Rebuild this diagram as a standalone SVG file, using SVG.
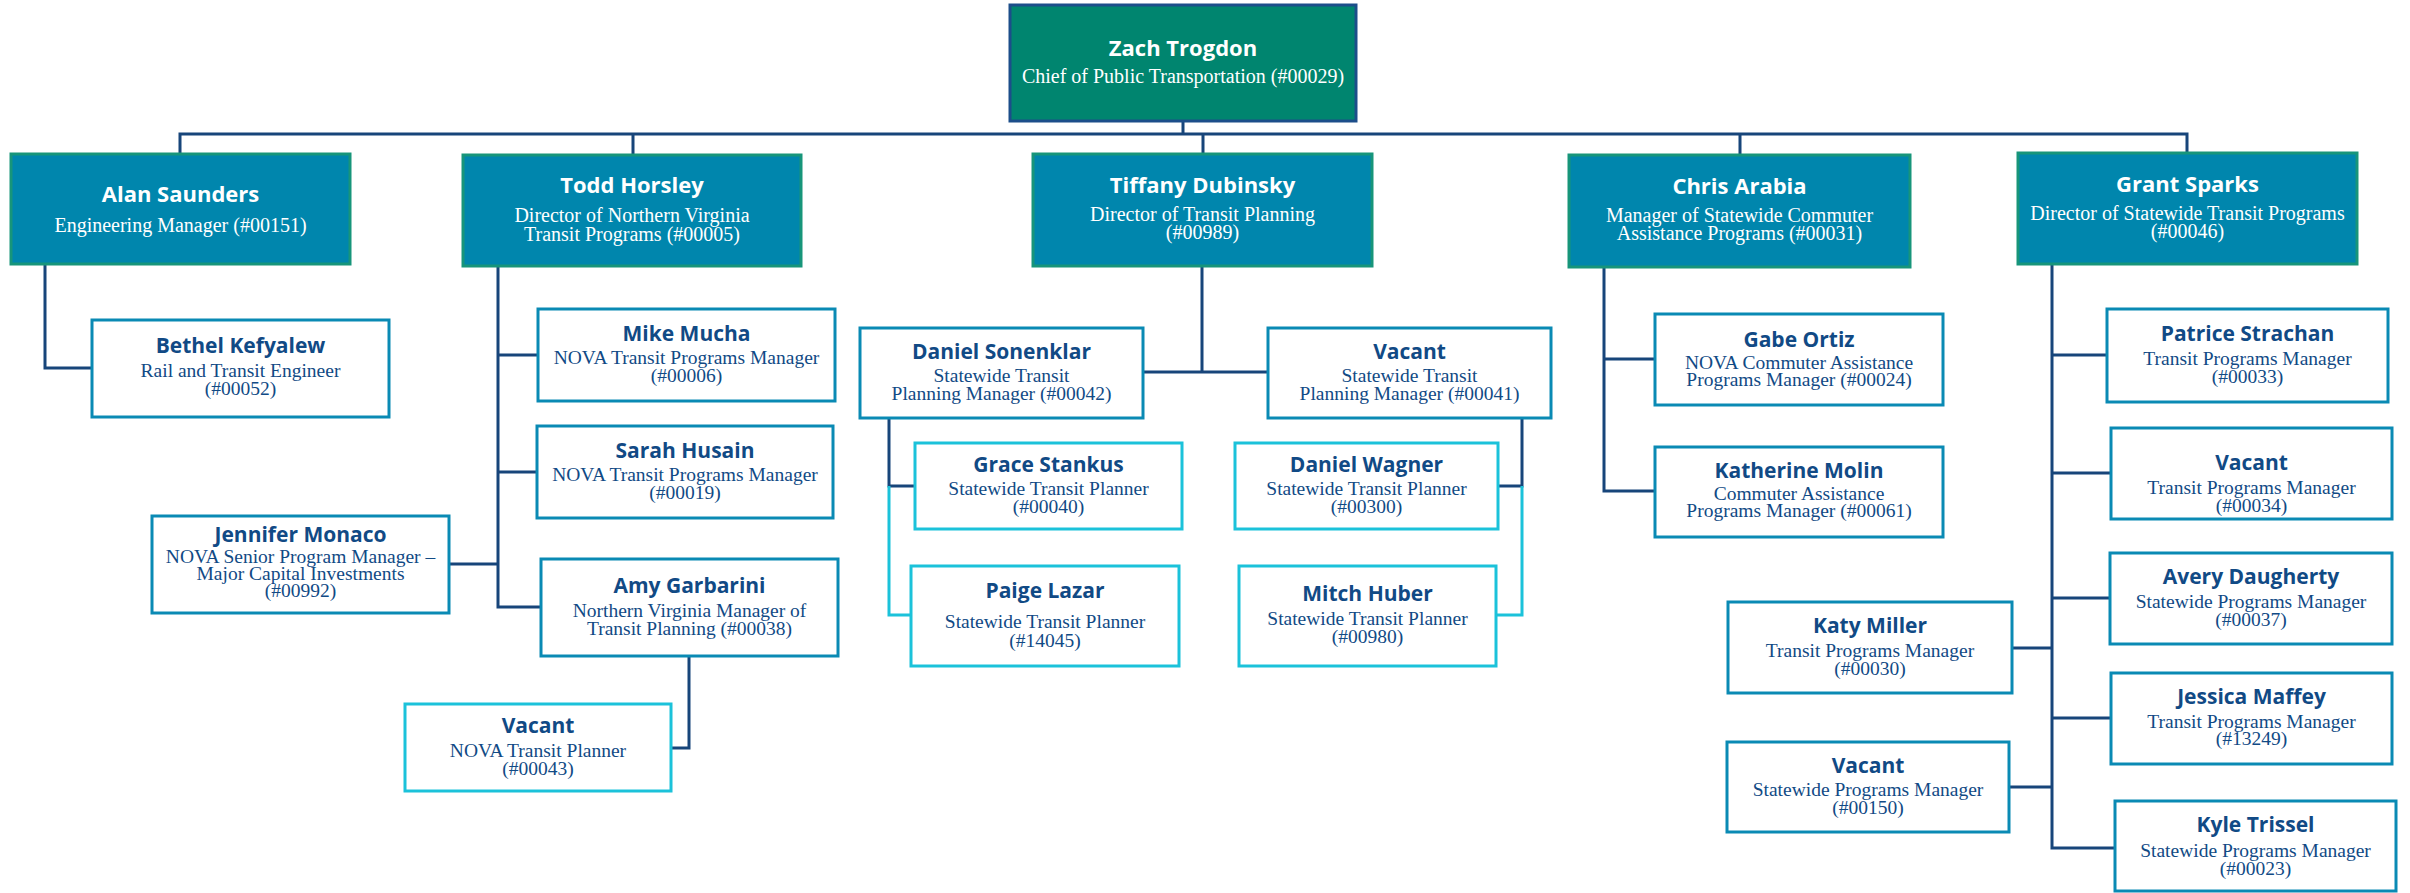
<svg xmlns="http://www.w3.org/2000/svg" width="2410" height="893" viewBox="0 0 2410 893">
<style>
.bg{fill:#ffffff}
.top{fill:#00856f;stroke:#1c4e8a;stroke-width:3}
.l1{fill:#0086ad;stroke:#17957a;stroke-width:3}
.l2{fill:#ffffff;stroke:#0a8ab4;stroke-width:3}
.l3{fill:#ffffff;stroke:#1bc2da;stroke-width:3}
.c{fill:none;stroke:#17457a;stroke-width:3}
.cc{fill:none;stroke:#1bc2da;stroke-width:3}
.n1{font-family:"Open Sans","Noto Sans",sans-serif;font-weight:700;font-size:22px;fill:#ffffff;text-anchor:middle}
.t1{font-family:"Liberation Serif","Times New Roman",serif;font-size:20px;fill:#ffffff;text-anchor:middle}
.n2{font-family:"Open Sans","Noto Sans",sans-serif;font-weight:700;font-size:21px;fill:#114a85;text-anchor:middle}
.t2{font-family:"Liberation Serif","Times New Roman",serif;font-size:19.5px;fill:#114a85;text-anchor:middle}
</style>
<rect class="bg" x="0" y="0" width="2410" height="893"/>
<g id="connectors">
<path class="c" d="M1183 121V134M180 154V134H2187V153M633 134V155M1203 134V154M1740 134V155"/>
<path class="c" d="M45 264V368H92"/>
<path class="c" d="M498 266V607H541M498 355H538M498 472H537M449 564H498"/>
<path class="c" d="M689 656V748H671"/>
<path class="c" d="M1202 266V372M1143 372H1268"/>
<path class="c" d="M889 418V486H915M1522 418V486H1498"/>
<path class="cc" d="M889 486V615H911M1522 486V615H1496"/>
<path class="c" d="M1604 267V491H1655M1604 359H1655"/>
<path class="c" d="M2052 264V848H2115M2052 355H2107M2052 473H2111M2052 598H2110M2012 648H2052M2052 718H2111M2009 787H2052"/>
</g>
<g id="zach"><rect class="top" x="1010" y="5" width="346" height="116"/><text class="n1" x="1183" y="56">Zach Trogdon</text><text class="t1" x="1183" y="83">Chief of Public Transportation (#00029)</text></g>
<g id="alan"><rect class="l1" x="11" y="154" width="339" height="110"/><text class="n1" x="180.5" y="202">Alan Saunders</text><text class="t1" x="180.5" y="232">Engineering Manager (#00151)</text></g>
<g id="todd"><rect class="l1" x="463" y="155" width="338" height="111"/><text class="n1" x="632" y="193">Todd Horsley</text><text class="t1" x="632" y="222">Director of Northern Virginia</text><text class="t1" x="632" y="241">Transit Programs (#00005)</text></g>
<g id="tiffany"><rect class="l1" x="1033" y="154" width="339" height="112"/><text class="n1" x="1202.5" y="193">Tiffany Dubinsky</text><text class="t1" x="1202.5" y="221">Director of Transit Planning</text><text class="t1" x="1202.5" y="239">(#00989)</text></g>
<g id="chris"><rect class="l1" x="1569" y="155" width="341" height="112"/><text class="n1" x="1739.5" y="194">Chris Arabia</text><text class="t1" x="1739.5" y="222">Manager of Statewide Commuter</text><text class="t1" x="1739.5" y="240">Assistance Programs (#00031)</text></g>
<g id="grant"><rect class="l1" x="2018" y="153" width="339" height="111"/><text class="n1" x="2187.5" y="192">Grant Sparks</text><text class="t1" x="2187.5" y="220">Director of Statewide Transit Programs</text><text class="t1" x="2187.5" y="238">(#00046)</text></g>
<g id="bethel"><rect class="l2" x="92" y="320" width="297" height="97"/><text class="n2" x="240.5" y="353">Bethel Kefyalew</text><text class="t2" x="240.5" y="377">Rail and Transit Engineer</text><text class="t2" x="240.5" y="395">(#00052)</text></g>
<g id="mike"><rect class="l2" x="538" y="309" width="297" height="92"/><text class="n2" x="686.5" y="341">Mike Mucha</text><text class="t2" x="686.5" y="364">NOVA Transit Programs Manager</text><text class="t2" x="686.5" y="382">(#00006)</text></g>
<g id="sarah"><rect class="l2" x="537" y="426" width="296" height="92"/><text class="n2" x="685" y="458">Sarah Husain</text><text class="t2" x="685" y="481">NOVA Transit Programs Manager</text><text class="t2" x="685" y="499">(#00019)</text></g>
<g id="jennifer"><rect class="l2" x="152" y="516" width="297" height="97"/><text class="n2" x="300.5" y="542">Jennifer Monaco</text><text class="t2" x="300.5" y="563">NOVA Senior Program Manager –</text><text class="t2" x="300.5" y="580">Major Capital Investments</text><text class="t2" x="300.5" y="597">(#00992)</text></g>
<g id="amy"><rect class="l2" x="541" y="559" width="297" height="97"/><text class="n2" x="689.5" y="593">Amy Garbarini</text><text class="t2" x="689.5" y="617">Northern Virginia Manager of</text><text class="t2" x="689.5" y="635">Transit Planning (#00038)</text></g>
<g id="vacant-00043"><rect class="l3" x="405" y="704" width="266" height="87"/><text class="n2" x="538" y="733">Vacant</text><text class="t2" x="538" y="757">NOVA Transit Planner</text><text class="t2" x="538" y="775">(#00043)</text></g>
<g id="sonenklar"><rect class="l2" x="860" y="328" width="283" height="90"/><text class="n2" x="1001.5" y="359">Daniel Sonenklar</text><text class="t2" x="1001.5" y="382">Statewide Transit</text><text class="t2" x="1001.5" y="400">Planning Manager (#00042)</text></g>
<g id="vacant-00041"><rect class="l2" x="1268" y="328" width="283" height="90"/><text class="n2" x="1409.5" y="359">Vacant</text><text class="t2" x="1409.5" y="382">Statewide Transit</text><text class="t2" x="1409.5" y="400">Planning Manager (#00041)</text></g>
<g id="grace"><rect class="l3" x="915" y="443" width="267" height="86"/><text class="n2" x="1048.5" y="472">Grace Stankus</text><text class="t2" x="1048.5" y="495">Statewide Transit Planner</text><text class="t2" x="1048.5" y="513">(#00040)</text></g>
<g id="wagner"><rect class="l3" x="1235" y="443" width="263" height="86"/><text class="n2" x="1366.5" y="472">Daniel Wagner</text><text class="t2" x="1366.5" y="495">Statewide Transit Planner</text><text class="t2" x="1366.5" y="513">(#00300)</text></g>
<g id="paige"><rect class="l3" x="911" y="566" width="268" height="100"/><text class="n2" x="1045" y="598">Paige Lazar</text><text class="t2" x="1045" y="628">Statewide Transit Planner</text><text class="t2" x="1045" y="647">(#14045)</text></g>
<g id="mitch"><rect class="l3" x="1239" y="566" width="257" height="100"/><text class="n2" x="1367.5" y="601">Mitch Huber</text><text class="t2" x="1367.5" y="625">Statewide Transit Planner</text><text class="t2" x="1367.5" y="643">(#00980)</text></g>
<g id="gabe"><rect class="l2" x="1655" y="314" width="288" height="91"/><text class="n2" x="1799" y="347">Gabe Ortiz</text><text class="t2" x="1799" y="369">NOVA Commuter Assistance</text><text class="t2" x="1799" y="386">Programs Manager (#00024)</text></g>
<g id="katherine"><rect class="l2" x="1655" y="447" width="288" height="90"/><text class="n2" x="1799" y="478">Katherine Molin</text><text class="t2" x="1799" y="500">Commuter Assistance</text><text class="t2" x="1799" y="517">Programs Manager (#00061)</text></g>
<g id="patrice"><rect class="l2" x="2107" y="309" width="281" height="93"/><text class="n2" x="2247.5" y="341">Patrice Strachan</text><text class="t2" x="2247.5" y="365">Transit Programs Manager</text><text class="t2" x="2247.5" y="383">(#00033)</text></g>
<g id="vacant-00034"><rect class="l2" x="2111" y="428" width="281" height="91"/><text class="n2" x="2251.5" y="470">Vacant</text><text class="t2" x="2251.5" y="494">Transit Programs Manager</text><text class="t2" x="2251.5" y="512">(#00034)</text></g>
<g id="avery"><rect class="l2" x="2110" y="553" width="282" height="91"/><text class="n2" x="2251" y="584">Avery Daugherty</text><text class="t2" x="2251" y="608">Statewide Programs Manager</text><text class="t2" x="2251" y="626">(#00037)</text></g>
<g id="katy"><rect class="l2" x="1728" y="602" width="284" height="91"/><text class="n2" x="1870" y="633">Katy Miller</text><text class="t2" x="1870" y="657">Transit Programs Manager</text><text class="t2" x="1870" y="675">(#00030)</text></g>
<g id="jessica"><rect class="l2" x="2111" y="673" width="281" height="91"/><text class="n2" x="2251.5" y="704">Jessica Maffey</text><text class="t2" x="2251.5" y="728">Transit Programs Manager</text><text class="t2" x="2251.5" y="745">(#13249)</text></g>
<g id="vacant-00150"><rect class="l2" x="1727" y="742" width="282" height="90"/><text class="n2" x="1868" y="773">Vacant</text><text class="t2" x="1868" y="796">Statewide Programs Manager</text><text class="t2" x="1868" y="814">(#00150)</text></g>
<g id="kyle"><rect class="l2" x="2115" y="801" width="281" height="90"/><text class="n2" x="2255.5" y="832">Kyle Trissel</text><text class="t2" x="2255.5" y="857">Statewide Programs Manager</text><text class="t2" x="2255.5" y="875">(#00023)</text></g>
</svg>
